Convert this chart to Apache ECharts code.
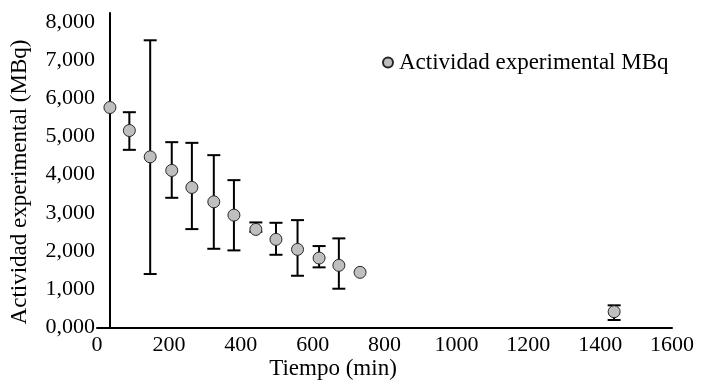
<!DOCTYPE html>
<html>
<head>
<meta charset="utf-8">
<script src="https://cdn.jsdelivr.net/npm/echarts@6/dist/echarts.min.js"></script>
<style>
html,body{margin:0;padding:0;background:#fff;}
#chart{width:707px;height:385px;}
</style>
</head>
<body>
<div id="chart"></div>
<script>
// Data
const seriesName = 'Actividad experimental MBq';
const timeMin = [36, 90, 148, 208, 264, 325, 381, 442, 498, 558, 618, 673, 732, 1439];
const activity = [5.757, 5.155, 4.466, 4.110, 3.665, 3.289, 2.941, 2.567, 2.306, 2.044, 1.817, 1.626, 1.443, 0.413];
const errUpper = [null, 5.634, 7.516, 4.850, 4.832, 4.510, 3.856, 2.750, 2.740, 2.810, 2.131, 2.332, null, 0.580];
const errLower = [null, 4.649, 1.399, 3.394, 2.575, 2.060, 2.018, 2.505, 1.903, 1.354, 1.574, 1.015, null, 0.196];
const xTitle = 'Tiempo (min)';
const yTitle = 'Actividad experimental (MBq)';

const FONT = '"Liberation Serif", "Times New Roman", serif';

const points = timeMin.map((t, i) => [t, activity[i]]);
const bars = [];
timeMin.forEach((t, i) => {
  if (errUpper[i] != null && errLower[i] != null) bars.push([t, errLower[i], errUpper[i]]);
});

const chart = echarts.init(document.getElementById('chart'), null, {renderer: 'canvas'});
chart.setOption({
  animation: false,
  backgroundColor: '#fff',
  grid: {left: 97, right: 35, top: 13, bottom: 57.5, containLabel: false},
  legend: {
    data: [{name: seriesName, icon: 'circle'}],
    left: 377, top: 46,
    itemWidth: 10, itemHeight: 10, itemGap: 4,
    textStyle: {fontFamily: FONT, fontSize: 23, color: '#000', padding: [0,0,0,1]}
  },
  xAxis: {
    type: 'value', min: 0, max: 1600, interval: 200,
    axisLine: {show: true, onZero: false, lineStyle: {color: '#000', width: 2}},
    axisTick: {show: false},
    splitLine: {show: false},
    axisLabel: {fontFamily: FONT, fontSize: 22, color: '#000', margin: 7,
      formatter: v => String(v)}
  },
  yAxis: {
    type: 'value', min: 0, max: 8.23, interval: 1,
    offset: -13,
    axisLine: {show: true, lineStyle: {color: '#000', width: 2}},
    axisTick: {show: false},
    splitLine: {show: false},
    axisLabel: {
      fontFamily: FONT, fontSize: 22, color: '#000', margin: 15,
      showMaxLabel: false,
      formatter: v => v.toFixed(3).replace('.', ',')
    }
  },
  graphic: [
    {type: 'text', x: 333, y: 357,
      style: {text: xTitle, font: '23px ' + FONT, fill: '#000', textAlign: 'center', textVerticalAlign: 'top'}},
    {type: 'text', rotation: Math.PI / 2, x: 8, y: 182,
      style: {text: yTitle, font: '23px ' + FONT, fill: '#000', textAlign: 'center', textVerticalAlign: 'top'}}
  ],
  series: [
    {
      type: 'custom',
      name: 'err',
      z: 1,
      data: bars,
      renderItem: function (params, api) {
        const x = api.value(0);
        const lo = api.coord([x, api.value(1)]);
        const hi = api.coord([x, api.value(2)]);
        const hw = 6.5;
        const st = {stroke: '#000', lineWidth: 2};
        return {
          type: 'group',
          children: [
            {type: 'line', shape: {x1: lo[0], y1: lo[1], x2: hi[0], y2: hi[1]}, style: st},
            {type: 'line', shape: {x1: hi[0] - hw, y1: hi[1], x2: hi[0] + hw, y2: hi[1]}, style: st},
            {type: 'line', shape: {x1: lo[0] - hw, y1: lo[1], x2: lo[0] + hw, y2: lo[1]}, style: st}
          ]
        };
      }
    },
    {
      type: 'scatter',
      name: seriesName,
      z: 3,
      data: points,
      symbol: 'circle',
      symbolSize: 12,
      itemStyle: {color: '#bfbfbf', borderColor: '#262626', borderWidth: 1, opacity: 1}
    }
  ]
});
</script>
</body>
</html>
